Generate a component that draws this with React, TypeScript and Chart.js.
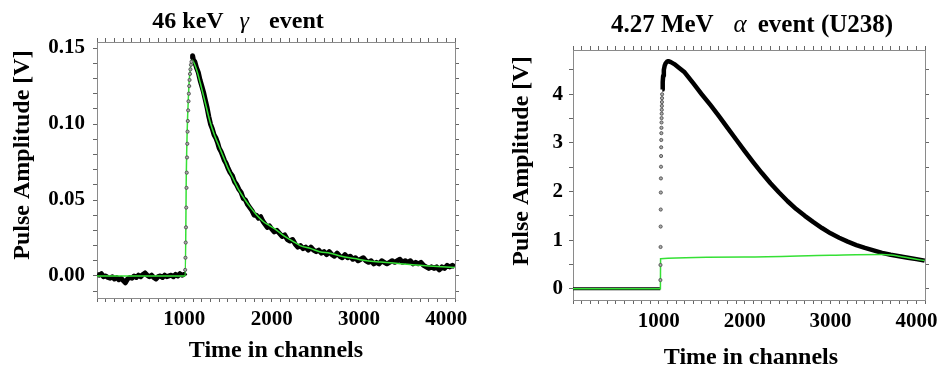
import React, { useEffect, useRef } from 'react';
import { Chart, registerables } from 'chart.js';

Chart.register(...registerables);

const SERIF = '"Liberation Serif", "Times New Roman", serif';

// ---------- 46 keV gamma event ----------
const gammaBaseTime = [0, 25, 50, 75, 100, 125, 150, 175, 200, 225, 250, 275, 300, 325, 350, 375, 400, 425, 450, 475, 500, 525, 550, 575, 600, 625, 650, 675, 700, 725, 750, 775, 800, 825, 850, 875, 900, 925, 950, 975, 1000, 1008];
const gammaBaseAmp = [0.001, 0.0005, 0.0015, -0.0005, 0.0, -0.001, -0.0015, -0.0005, -0.002, -0.001, -0.0025, -0.0015, -0.003, -0.0045, -0.002, -0.001, -0.0015, 0.0, -0.001, 0.0005, -0.0005, 0.001, 0.002, 0.0005, -0.0005, 0.0005, -0.001, -0.002, -0.0005, 0.0, -0.001, 0.0005, -0.0005, 0.0, 0.0005, -0.0005, 0.001, 0.0, 0.0015, 0.0005, 0.001, 0.0];

const gammaRiseTime = [1010, 1013, 1016, 1019, 1022, 1025, 1028, 1031, 1034, 1037, 1040, 1044, 1048, 1052, 1056, 1060, 1065, 1070, 1076, 1082];
const gammaRiseAmp = [0.004, 0.012, 0.022, 0.032, 0.045, 0.058, 0.068, 0.078, 0.087, 0.095, 0.102, 0.109, 0.115, 0.12, 0.125, 0.129, 0.133, 0.136, 0.139, 0.141];

const gammaTailTime = [1088, 1095, 1105, 1120, 1140, 1160, 1180, 1200, 1220, 1240, 1260, 1280, 1300, 1320, 1340, 1360, 1380, 1400, 1420, 1440, 1460, 1480, 1500, 1525, 1550, 1575, 1600, 1625, 1650, 1675, 1700, 1725, 1750, 1775, 1800, 1825, 1850, 1875, 1900, 1925, 1950, 1975, 2000, 2030, 2060, 2090, 2120, 2150, 2180, 2210, 2240, 2270, 2300, 2330, 2360, 2390, 2420, 2450, 2480, 2510, 2540, 2570, 2600, 2630, 2660, 2690, 2720, 2750, 2780, 2810, 2840, 2870, 2900, 2930, 2960, 2990, 3020, 3050, 3080, 3110, 3140, 3170, 3200, 3230, 3260, 3290, 3320, 3350, 3380, 3410, 3440, 3470, 3500, 3530, 3560, 3590, 3620, 3650, 3680, 3710, 3740, 3770, 3800, 3830, 3860, 3890, 3920, 3950, 3980, 4010, 4040, 4070, 4096];
const gammaTailAmp = [0.143, 0.145, 0.142, 0.141, 0.137, 0.134, 0.129, 0.125, 0.121, 0.116, 0.111, 0.105, 0.1, 0.097, 0.093, 0.091, 0.088, 0.084, 0.082, 0.079, 0.076, 0.074, 0.071, 0.068, 0.066, 0.062, 0.06, 0.057, 0.055, 0.051, 0.05, 0.047, 0.045, 0.043, 0.04, 0.04, 0.038, 0.039, 0.036, 0.034, 0.032, 0.033, 0.031, 0.029, 0.03, 0.028, 0.026, 0.027, 0.024, 0.023, 0.024, 0.021, 0.019, 0.02, 0.018, 0.019, 0.017, 0.019, 0.017, 0.016, 0.017, 0.015, 0.016, 0.014, 0.016, 0.014, 0.013, 0.015, 0.013, 0.012, 0.014, 0.012, 0.013, 0.011, 0.012, 0.01, 0.011, 0.012, 0.01, 0.009, 0.01, 0.008, 0.009, 0.008, 0.01, 0.009, 0.008, 0.009, 0.01, 0.009, 0.01, 0.011, 0.009, 0.01, 0.009, 0.01, 0.008, 0.009, 0.008, 0.009, 0.007, 0.006, 0.005, 0.006, 0.005, 0.006, 0.004, 0.006, 0.005, 0.007, 0.006, 0.007, 0.006];

const gammaFitTime = [0, 1008, 1011, 1023, 1050, 1070, 1090, 1120, 1150, 1183, 1240, 1297, 1350, 1400, 1457, 1500, 1560, 1620, 1697, 1760, 1831, 1900, 1980, 2059, 2150, 2240, 2326, 2450, 2550, 2669, 2800, 2950, 3088, 3250, 3400, 3550, 3660, 3800, 3950, 4096];
const gammaFitAmp = [0, 0, 0, 0.068, 0.122, 0.137, 0.142, 0.139, 0.134, 0.127, 0.114, 0.101, 0.092, 0.085, 0.077, 0.071, 0.064, 0.057, 0.05, 0.045, 0.04, 0.036, 0.033, 0.03, 0.026, 0.023, 0.02, 0.018, 0.016, 0.015, 0.013, 0.0115, 0.01, 0.0092, 0.0085, 0.0077, 0.0072, 0.0066, 0.006, 0.0055];

// ---------- 4.27 MeV alpha event ----------
const alphaBaseTime = [0, 200, 400, 600, 800, 1000, 1017];
const alphaBaseAmp = [0, 0, 0, 0, 0, 0, 0];

const alphaRiseTime = [1018, 1019, 1020, 1021, 1022, 1023, 1024, 1025, 1026, 1027, 1028, 1029, 1030, 1031, 1032, 1033, 1034, 1035, 1036, 1037, 1038];
const alphaRiseAmp = [0.18, 0.49, 0.86, 1.28, 1.63, 1.98, 2.27, 2.51, 2.73, 2.91, 3.06, 3.2, 3.31, 3.42, 3.51, 3.6, 3.68, 3.76, 3.84, 3.92, 4.0];

const alphaTailTime = [1040, 1045, 1050, 1058, 1068, 1080, 1095, 1110, 1140, 1180, 1230, 1300, 1400, 1500, 1600, 1700, 1800, 1900, 2000, 2100, 2200, 2300, 2400, 2500, 2600, 2700, 2800, 2900, 3000, 3100, 3200, 3300, 3400, 3500, 3600, 3700, 3800, 3900, 4000, 4096];
const alphaTailAmp = [4.1, 4.25, 4.38, 4.5, 4.59, 4.64, 4.67, 4.68, 4.66, 4.62, 4.55, 4.45, 4.23, 4.0, 3.78, 3.55, 3.31, 3.07, 2.83, 2.6, 2.38, 2.17, 1.98, 1.8, 1.64, 1.5, 1.37, 1.25, 1.14, 1.05, 0.97, 0.9, 0.84, 0.79, 0.74, 0.7, 0.67, 0.64, 0.61, 0.58];

const alphaFitTime = [0, 1018, 1020, 2000, 3000, 3600, 3700, 3800, 3900, 4000, 4096];
const alphaFitAmp = [0, 0, 0.62, 0.655, 0.69, 0.705, 0.695, 0.67, 0.64, 0.61, 0.58];

// ---------- axes ----------
const xLabelValues = [1000, 2000, 3000, 4000];
const gammaYLabelValues = [0, 0.05, 0.1, 0.15];
const alphaYLabelValues = [0, 1, 2, 3, 4];
const X_MAX = 4100;

const pts = (t: number[], a: number[]) => t.map((x, i) => ({ x, y: a[i] }));

const GREEN = '#35e035';
const FRAME = '#8a8a8a';

const panelText = {
  id: 'panelText',
  afterDraw(chart: any, _args: any, o: any) {
    const ctx = chart.ctx;
    ctx.save();
    ctx.fillStyle = '#000';
    ctx.textBaseline = 'alphabetic';
    ctx.textAlign = 'left';
    let total = 0;
    o.title.forEach((s: any) => {
      ctx.font = s.font;
      total += (s.gap || 0) + ctx.measureText(s.text).width;
    });
    let x = o.titleX - total / 2;
    o.title.forEach((s: any) => {
      ctx.font = s.font;
      x += s.gap || 0;
      ctx.fillText(s.text, x, o.titleY);
      x += ctx.measureText(s.text).width;
    });
    ctx.font = o.axisFont;
    ctx.textAlign = 'center';
    ctx.fillText(o.xTitle, o.xTitleX, o.xTitleY);
    ctx.translate(o.yTitleX, o.yTitleY);
    ctx.rotate(-Math.PI / 2);
    ctx.textBaseline = 'middle';
    ctx.fillText(o.yTitle, 0, 0);
    ctx.restore();
  },
};

type PanelProps = {
  datasets: any[];
  yMin: number;
  yMax: number;
  yStep: number;
  yLabels: number[];
  yDecimals: number;
  plot: { left: number; top: number; right: number; bottom: number };
  text: any;
  yPad: number;
  xPad: number;
};

const W = 470;
const H = 366;

function Panel(p: PanelProps) {
  const ref = useRef<HTMLCanvasElement>(null);
  useEffect(() => {
    if (!ref.current) return;
    const tickFont = { family: SERIF, size: 21, weight: 'bold' as const };
    const grid = { drawOnChartArea: false, drawTicks: true, tickLength: 4, color: '#666', lineWidth: 1 };
    const border = { display: true, color: FRAME, width: 1 };
    const relabel = (list: number[], dec: number) => (s: any) => {
      s.ticks.forEach((t: any) => {
        const hit = list.find((l) => Math.abs(l - t.value) < 1e-6 + Math.abs(l) * 1e-6);
        t.label = hit !== undefined ? hit.toFixed(dec) : '';
      });
    };
    const chart = new Chart(ref.current, {
      type: 'line',
      data: { datasets: p.datasets },
      options: {
        animation: false,
        responsive: false,
        devicePixelRatio: 1,
        layout: { padding: 0 },
        plugins: { legend: { display: false }, title: { display: false }, tooltip: { enabled: false }, panelText: p.text } as any,
        scales: {
          x: {
            type: 'linear', position: 'bottom', min: 0, max: X_MAX,
            grid, border,
            ticks: {
              stepSize: 100, maxTicksLimit: 100, autoSkip: false, includeBounds: false, maxRotation: 0, minRotation: 0,
              padding: p.xPad, color: '#000', font: tickFont,
            },
            afterTickToLabelConversion: relabel(xLabelValues, 0),
            afterFit: (s: any) => { s.height = H - p.plot.bottom; },
          },
          x2: {
            type: 'linear', position: 'top', min: 0, max: X_MAX,
            grid, border,
            ticks: { display: false, stepSize: 100, maxTicksLimit: 100, autoSkip: false, includeBounds: false },
            afterFit: (s: any) => { s.height = p.plot.top; },
          },
          y: {
            type: 'linear', position: 'left', min: p.yMin, max: p.yMax,
            grid, border,
            ticks: {
              stepSize: p.yStep, maxTicksLimit: 100, autoSkip: false, includeBounds: false,
              padding: p.yPad, color: '#000', font: tickFont,
            },
            afterTickToLabelConversion: relabel(p.yLabels, p.yDecimals),
            afterFit: (s: any) => { s.width = p.plot.left; },
          },
          y2: {
            type: 'linear', position: 'right', min: p.yMin, max: p.yMax,
            grid, border,
            ticks: { display: false, stepSize: p.yStep, maxTicksLimit: 100, autoSkip: false, includeBounds: false },
            afterFit: (s: any) => { s.width = W - p.plot.right; },
          },
        },
      } as any,
      plugins: [panelText],
    });
    return () => chart.destroy();
  }, []);
  return <canvas ref={ref} width={W} height={H} style={{ display: 'block', width: W, height: H }} />;
}

const bold24 = `bold 24px ${SERIF}`;
const ital24 = `italic 24px ${SERIF}`;

const band = (t: number[], a: number[], w: number) => ({
  data: pts(t, a), borderColor: '#000', borderWidth: w, pointRadius: 0, tension: 0, fill: false,
  borderJoinStyle: 'round', xAxisID: 'x', yAxisID: 'y',
});
const dots = (t: number[], a: number[]) => ({
  data: pts(t, a), showLine: false, pointRadius: 1.6, pointStyle: 'circle',
  pointBorderColor: '#444', pointBackgroundColor: '#aaa', pointBorderWidth: 0.8,
  xAxisID: 'x', yAxisID: 'y',
});
const fit = (t: number[], a: number[]) => ({
  data: pts(t, a), borderColor: GREEN, borderWidth: 1.5, pointRadius: 0, tension: 0,
  cubicInterpolationMode: 'monotone', fill: false, xAxisID: 'x', yAxisID: 'y',
});

export default function App() {
  return (
    <div style={{ position: 'absolute', left: 0, top: 0, width: 940, height: 366, display: 'flex', background: '#fff' }}>
      <Panel
        datasets={[
          dots(gammaRiseTime, gammaRiseAmp),
          fit(gammaFitTime, gammaFitAmp),
          band(gammaBaseTime, gammaBaseAmp, 5),
          band(gammaTailTime, gammaTailAmp, 5),
        ]}
        yMin={-0.0145}
        yMax={0.154}
        yStep={0.01}
        yLabels={gammaYLabelValues}
        yDecimals={2}
        plot={{ left: 97, top: 42, right: 455, bottom: 298 }}
        yPad={8}
        xPad={5}
        text={{
          title: [
            { text: '46 keV', font: bold24 },
            { text: 'γ', font: ital24, gap: 16 },
            { text: 'event', font: bold24, gap: 20 },
          ],
          titleX: 238, titleY: 28,
          axisFont: bold24,
          xTitle: 'Time in channels', xTitleX: 276, xTitleY: 357,
          yTitle: 'Pulse Amplitude [V]', yTitleX: 23, yTitleY: 155,
        }}
      />
      <Panel
        datasets={[
          dots(alphaRiseTime, alphaRiseAmp),
          fit(alphaFitTime, alphaFitAmp),
          band(alphaBaseTime, alphaBaseAmp, 3),
          band(alphaTailTime, alphaTailAmp, 4.5),
        ]}
        yMin={-0.23}
        yMax={4.91}
        yStep={0.5}
        yLabels={alphaYLabelValues}
        yDecimals={0}
        plot={{ left: 103, top: 50, right: 455, bottom: 300 }}
        yPad={6}
        xPad={5}
        text={{
          title: [
            { text: '4.27 MeV', font: `bold 25px ${SERIF}` },
            { text: 'α', font: `italic 25px ${SERIF}`, gap: 20 },
            { text: 'event (U238)', font: `bold 25px ${SERIF}`, gap: 11 },
          ],
          titleX: 282, titleY: 32,
          axisFont: bold24,
          xTitle: 'Time in channels', xTitleX: 281, xTitleY: 364,
          yTitle: 'Pulse Amplitude [V]', yTitleX: 52, yTitleY: 161,
        }}
      />
    </div>
  );
}
